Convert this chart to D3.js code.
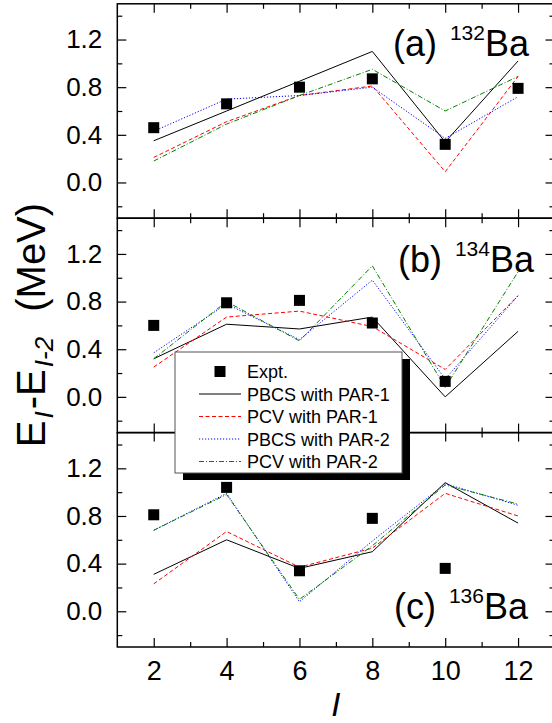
<!DOCTYPE html>
<html><head><meta charset="utf-8">
<script src="https://cdn.jsdelivr.net/npm/d3@7"></script>
<style>
html,body{margin:0;padding:0;background:#fff;}
svg{display:block;font-family:"Liberation Sans",Arial,sans-serif;}
</style></head>
<body><svg id="chart" width="552" height="723"></svg>
<script>
// ---- data ----
const spins = [2, 4, 6, 8, 10, 12];
const exptSpins = [2, 4, 6, 8, 10, 12];
const yTicks = [0.0, 0.4, 0.8, 1.2];
const yMinor = [-0.2, 0.2, 0.6, 1.0, 1.4];
const xTicks = [2, 4, 6, 8, 10, 12];
const xMinor = [3, 5, 7, 9, 11];

// 132Ba
const exptA  = [0.46, 0.66, 0.80, 0.87, 0.32, 0.79];
const pbcs1A = [0.35, 0.60, 0.85, 1.10, 0.34, 1.02];
const pcv1A  = [0.21, 0.51, 0.73, 0.81, 0.09, 0.89];
const pbcs2A = [0.43, 0.70, 0.73, 0.80, 0.37, 0.72];
const pcv2A  = [0.18, 0.49, 0.73, 0.95, 0.60, 0.89];
// 134Ba
const exptB  = [0.60, 0.79, 0.81, 0.62, 0.13, null];
const pbcs1B = [0.32, 0.61, 0.57, 0.67, 0.00, 0.55];
const pcv1B  = [0.25, 0.67, 0.72, 0.59, 0.23, 0.85];
const pbcs2B = [0.37, 0.78, 0.48, 0.98, 0.15, 0.85];
const pcv2B  = [0.32, 0.80, 0.47, 1.10, 0.08, 1.05];
// 136Ba
const exptC  = [0.81, 1.04, 0.34, 0.78, 0.36, null];
const pbcs1C = [0.31, 0.60, 0.36, 0.50, 1.08, 0.74];
const pcv1C  = [0.23, 0.67, 0.37, 0.53, 0.99, 0.80];
const pbcs2C = [0.68, 0.99, 0.08, 0.59, 1.07, 0.89];
const pcv2C  = [0.68, 0.98, 0.10, 0.55, 1.06, 0.90];

const seriesNames = ["Expt.", "PBCS with PAR-1", "PCV with PAR-1", "PBCS with PAR-2", "PCV with PAR-2"];
const panelLabels = [["(a) ", "132", "Ba"], ["(b) ", "134", "Ba"], ["(c) ", "136", "Ba"]];

// ---- styles ----
const lineStyles = [
  {color: "#000000", dash: null},
  {color: "#ff0000", dash: "4,2.5"},
  {color: "#0000ff", dash: "1.2,1.8"},
  {color: "#008000", dash: "5,2,1,2"}
];

const panels = [
  {expt: exptA, lines: [pbcs1A, pcv1A, pbcs2A, pcv2A], label: panelLabels[0], lx: 529, ly: 56},
  {expt: exptB, lines: [pbcs1B, pcv1B, pbcs2B, pcv2B], label: panelLabels[1], lx: 534, ly: 272},
  {expt: exptC, lines: [pbcs1C, pcv1C, pbcs2C, pcv2C], label: panelLabels[2], lx: 528, ly: 619}
];

const svg = d3.select("#chart");
const x = d3.scaleLinear().domain([1, 13]).range([117.3, 554.5]);
const pTop0 = 3.8, pH = 214.4;

panels.forEach((p, i) => {
  const top = pTop0 + i * pH, bot = top + pH;
  const y = d3.scaleLinear().domain([-0.3, 1.5]).range([bot, top]);
  const g = svg.append("g");

  // series lines
  p.lines.forEach((vals, k) => {
    const pts = spins.map((s, j) => [s, vals[j]]);
    g.append("path")
      .attr("d", d3.line().x(d => x(d[0])).y(d => y(d[1]))(pts))
      .attr("fill", "none")
      .attr("stroke", lineStyles[k].color)
      .attr("stroke-width", 1)
      .attr("stroke-dasharray", lineStyles[k].dash);
  });
  // expt markers
  const ex = exptSpins.map((s, j) => [s, p.expt[j]]).filter(d => d[1] != null);
  g.selectAll("rect.m").data(ex).enter().append("rect")
    .attr("x", d => x(d[0]) - 5.5).attr("y", d => y(d[1]) - 5.5)
    .attr("width", 11).attr("height", 11).attr("fill", "#000");

  // axes
  const ax = (axisFn, scale, ticks, size, pad, fmt, tx, ty) => {
    const a = axisFn(scale).tickValues(ticks).tickSize(size).tickPadding(pad);
    a.tickFormat(fmt ? d3.format(fmt) : "");
    const gg = g.append("g").attr("transform", `translate(${tx},${ty})`).call(a);
    gg.select(".domain").remove();
    gg.selectAll("line").attr("stroke", "#000").attr("stroke-width", 1.2);
    gg.selectAll("text").attr("font-size", 26).attr("fill", "#000")
      .attr("font-family", "'Liberation Sans',Arial,sans-serif");
    return gg;
  };
  ax(d3.axisLeft, y, yTicks, -9, 15, ".1f", x(1), 0);
  ax(d3.axisLeft, y, yMinor, -5, 3, null, x(1), 0);
  ax(d3.axisRight, y, yTicks, -9, 3, null, x(13), 0);
  ax(d3.axisRight, y, yMinor, -5, 3, null, x(13), 0);
  ax(d3.axisTop, x, xTicks, -9, 3, null, 0, top);
  ax(d3.axisTop, x, xMinor, -5, 3, null, 0, top);
  const bx = ax(d3.axisBottom, x, xTicks, -9, 14, i === 2 ? "d" : null, 0, bot);
  if (i === 2) bx.selectAll("text").attr("font-size", 27).attr("dy", "0.71em");
  ax(d3.axisBottom, x, xMinor, -5, 3, null, 0, bot);

  // frame
  g.append("rect").attr("x", x(1)).attr("y", top).attr("width", x(13) - x(1)).attr("height", pH)
    .attr("fill", "none").attr("stroke", "#000").attr("stroke-width", 1.5);

  // panel label
  const t = g.append("text").attr("x", p.lx).attr("y", p.ly).attr("text-anchor", "end")
    .attr("font-size", 36).attr("fill", "#000");
  t.append("tspan").text(p.label[0]);
  t.append("tspan").attr("font-size", 21).attr("dy", -16).attr("dx", 3).text(p.label[1]);
  t.append("tspan").attr("dy", 16).text(p.label[2]);
});

// y-axis title
const yt = svg.append("text").attr("transform", "translate(45,325) rotate(-90)")
  .attr("text-anchor", "middle").attr("font-size", 40).attr("fill", "#000");
yt.append("tspan").text("E");
yt.append("tspan").attr("font-size", 26).attr("font-style", "italic").attr("dy", 8).attr("dx", 2).text("I");
yt.append("tspan").attr("dy", -8).attr("dx", 2).text("-E");
yt.append("tspan").attr("font-size", 26).attr("font-style", "italic").attr("dy", 8).attr("dx", 2).text("I-2");
yt.append("tspan").attr("dy", -8).attr("dx", 14).text(" (MeV)");

// x-axis title
svg.append("text").attr("x", x(7)).attr("y", 716).attr("text-anchor", "middle")
  .attr("font-size", 33).attr("font-style", "italic").attr("fill", "#000").text("I");

// legend
const L = {x: 175, y: 352, w: 227, h: 121};
const lg = svg.append("g");
lg.append("rect").attr("x", L.x + 8).attr("y", L.y + 7).attr("width", L.w).attr("height", L.h).attr("fill", "#000");
lg.append("rect").attr("x", L.x).attr("y", L.y).attr("width", L.w).attr("height", L.h)
  .attr("fill", "#fff").attr("stroke", "#555").attr("stroke-width", 1);
seriesNames.forEach((name, k) => {
  const cy = 371.5 + k * 22.5;
  if (k === 0) {
    lg.append("rect").attr("x", 220 - 5.5).attr("y", cy - 5.5).attr("width", 11).attr("height", 11).attr("fill", "#000");
  } else {
    const st = lineStyles[k - 1];
    lg.append("line").attr("x1", 199).attr("x2", 241).attr("y1", cy).attr("y2", cy)
      .attr("stroke", st.color).attr("stroke-width", 1).attr("stroke-dasharray", st.dash);
  }
  lg.append("text").attr("x", 247).attr("y", cy + 6.5).attr("font-size", 18).attr("fill", "#000").text(name);
});
</script></body></html>
